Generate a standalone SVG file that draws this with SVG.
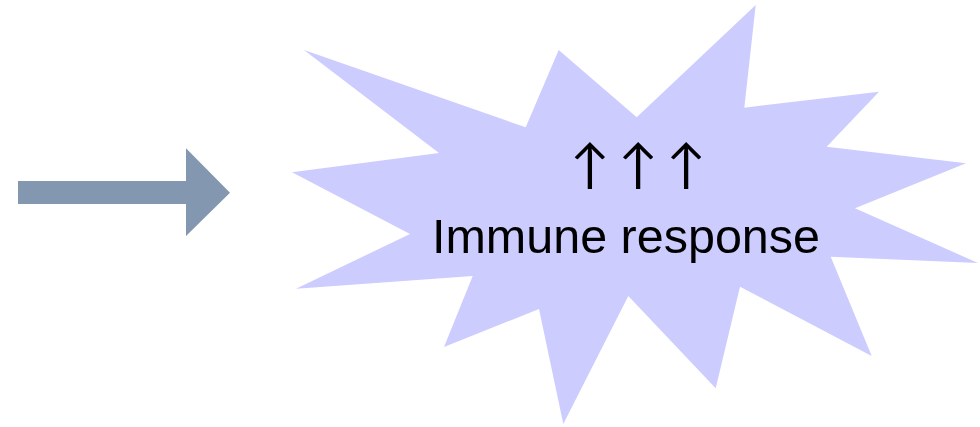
<svg xmlns="http://www.w3.org/2000/svg" width="980" height="427" viewBox="0 0 980 427">
<style>
.lbl{font-family:"Liberation Sans","DejaVu Sans",sans-serif;fill:#000;text-anchor:middle}
.up{font-family:"Lato","Open Sans","Liberation Sans",sans-serif;fill:#000;text-anchor:middle}
</style>
<rect width="980" height="427" fill="#fff"/>
<g id="connectors">
<polygon points="18,181 186,181 186,148.3 230,192.7 186,236 186,204 18,204" fill="#8497B0"/>
</g>
<g id="burst">
<polygon fill="#CCCCFF" points="304,50 525.7,127.3 558.7,50 636.7,117.3 755.7,5 744.3,107.7 879,91.7 826.7,146.7 966,163.3 855,208.3 978,263 830.7,256.7 871.7,356 740,286.7 715.7,388.3 628.3,296 563.3,424 539,309 444,347 472.7,276 296,288.7 410,234 292,172.3 439,153"/>
<text class="up" x="638" y="183" font-size="53" textLength="136" lengthAdjust="spacing">↑↑↑</text>
<text class="lbl" x="626" y="253" font-size="48" textLength="388" lengthAdjust="spacingAndGlyphs">Immune response</text>
</g>
</svg>
